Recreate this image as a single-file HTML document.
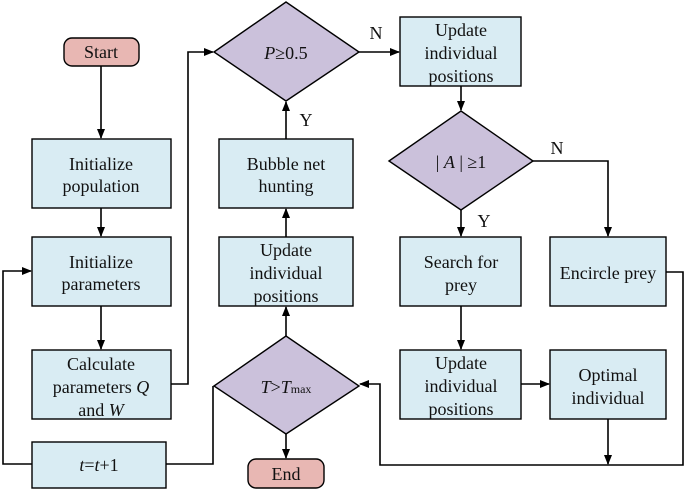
<!DOCTYPE html>
<html><head><style>body{margin:0;background:#fff}svg text{font-family:"Liberation Serif","DejaVu Serif",serif;font-size:18px}</style></head><body>
<svg width="685" height="490" viewBox="0 0 685 490" xmlns="http://www.w3.org/2000/svg">
<defs><marker id="a" markerWidth="10" markerHeight="10" refX="9" refY="5" orient="auto" markerUnits="userSpaceOnUse"><path d="M0,1 L10,5 L0,9 z" fill="#000"/></marker></defs>
<g stroke="#000" stroke-width="1.6" fill="none">
<line x1="101" y1="66" x2="101" y2="138" marker-end="url(#a)"/>
<line x1="101" y1="208" x2="101" y2="236" marker-end="url(#a)"/>
<line x1="101" y1="306" x2="101" y2="349" marker-end="url(#a)"/>
<polyline points="32,464 3,464 3,271 31,271" marker-end="url(#a)"/>
<polyline points="171,384 188,384 188,52 213,52" marker-end="url(#a)"/>
<polyline points="166,464 213,464 213,386"/>
<line x1="286" y1="434" x2="286" y2="458" marker-end="url(#a)"/>
<line x1="286" y1="336" x2="286" y2="307" marker-end="url(#a)"/>
<line x1="286" y1="237" x2="286" y2="209" marker-end="url(#a)"/>
<line x1="286" y1="139" x2="286" y2="102" marker-end="url(#a)"/>
<line x1="359" y1="52" x2="399" y2="52" marker-end="url(#a)"/>
<line x1="461" y1="86" x2="461" y2="110" marker-end="url(#a)"/>
<line x1="461" y1="210" x2="461" y2="236" marker-end="url(#a)"/>
<polyline points="533,161 608,161 608,236" marker-end="url(#a)"/>
<line x1="461" y1="306" x2="461" y2="349" marker-end="url(#a)"/>
<line x1="521" y1="384" x2="549" y2="384" marker-end="url(#a)"/>
<line x1="608" y1="419" x2="608" y2="464" marker-end="url(#a)"/>
<polyline points="666,272 683,272 683,465 380,465 380,384 360,384" marker-end="url(#a)"/>
</g>
<g stroke="#000" stroke-width="1.4">
<rect x="64" y="38" width="75" height="28" rx="8" fill="#e8b7b3"/>
<rect x="248" y="459" width="76" height="29" rx="8" fill="#e8b7b3"/>
<g fill="#d9ecf3">
<rect x="32" y="139" width="139" height="69"/>
<rect x="32" y="237" width="139" height="69"/>
<rect x="32" y="350" width="139" height="69"/>
<rect x="32" y="442" width="134" height="46"/>
<rect x="219" y="139" width="134" height="69"/>
<rect x="219" y="237" width="134" height="69"/>
<rect x="400" y="17" width="121" height="69"/>
<rect x="400" y="237" width="121" height="69"/>
<rect x="550" y="237" width="116" height="69"/>
<rect x="400" y="350" width="121" height="69"/>
<rect x="550" y="350" width="116" height="69"/>
</g>
<g fill="#cbc1db">
<polygon points="214,52 286,2 359,52 286,101"/>
<polygon points="214,386 286,336 359,386 286,434"/>
<polygon points="389,161 461,111 533,161 461,210"/>
</g>
</g>
<g text-anchor="middle" fill="#111">
<text x="101" y="58">Start</text>
<text x="286" y="480">End</text>
<text x="101" y="170">Initialize</text><text x="101" y="192">population</text>
<text x="101" y="268">Initialize</text><text x="101" y="290">parameters</text>
<text x="101" y="370">Calculate</text><text x="101" y="393">parameters <tspan font-style="italic">Q</tspan></text><text x="101" y="416">and <tspan font-style="italic">W</tspan></text>
<text x="99" y="471"><tspan font-style="italic">t</tspan>=<tspan font-style="italic">t</tspan>+1</text>
<text x="286" y="170">Bubble net</text><text x="286" y="192">hunting</text>
<text x="286" y="256">Update</text><text x="286" y="279">individual</text><text x="286" y="302">positions</text>
<text x="286" y="59"><tspan font-style="italic">P</tspan>≥0.5</text>
<text x="286" y="393"><tspan font-style="italic">T</tspan>&gt;<tspan font-style="italic">T</tspan><tspan style="font-size:12px">max</tspan></text>
<text x="461" y="168">| <tspan font-style="italic">A</tspan> | ≥1</text>
<text x="461" y="36">Update</text><text x="461" y="59">individual</text><text x="461" y="82">positions</text>
<text x="461" y="268">Search for</text><text x="461" y="291">prey</text>
<text x="608" y="279">Encircle prey</text>
<text x="461" y="369">Update</text><text x="461" y="392">individual</text><text x="461" y="415">positions</text>
<text x="608" y="381">Optimal</text><text x="608" y="404">individual</text>
<text x="376" y="39">N</text>
<text x="557" y="154">N</text>
<text x="484" y="227">Y</text>
<text x="306" y="126">Y</text>
</g>
</svg>
</body></html>
